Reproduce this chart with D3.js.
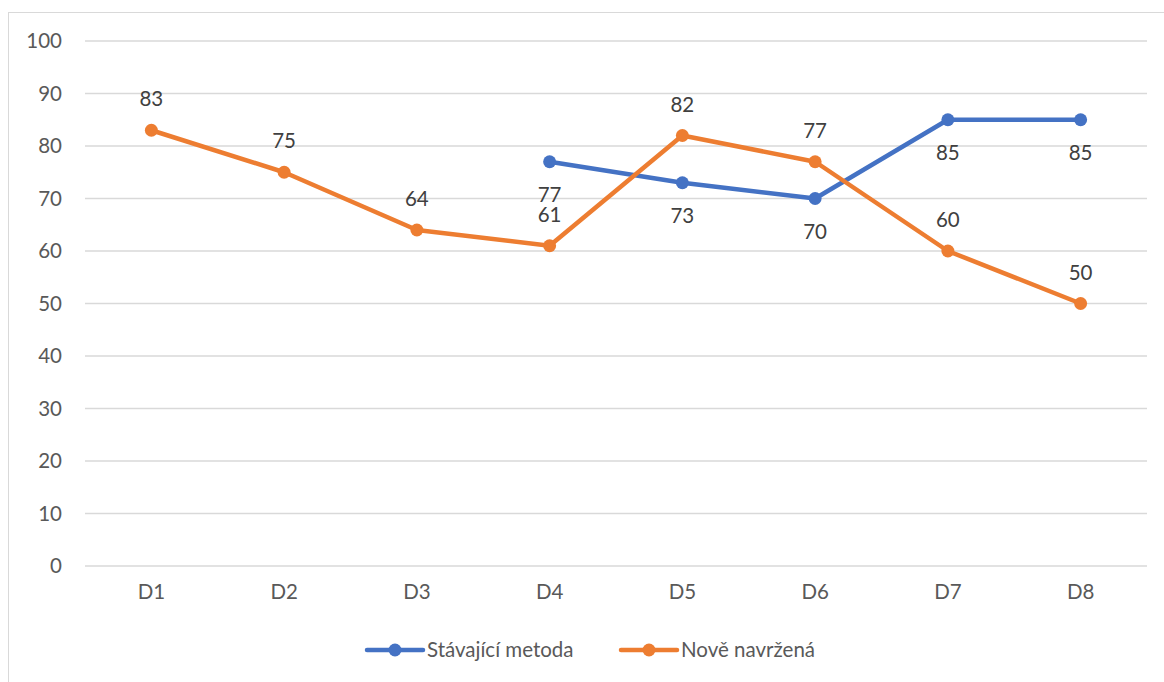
<!DOCTYPE html>
<html><head><meta charset="utf-8">
<script src="https://cdn.jsdelivr.net/npm/d3@7"></script>
<style>body{margin:0;background:#fff;}svg{display:block;}</style>
</head><body>
<script>
const categories = ["D1","D2","D3","D4","D5","D6","D7","D8"];
const seriesNames = ["Stávající metoda","Nově navržená"];
const stavajici = [null,null,null,77,73,70,85,85];
const nove = [83,75,64,61,82,77,60,50];
const yTicks = [0,10,20,30,40,50,60,70,80,90,100];
const colors = ["#4472C4","#ED7D31"];

(function(){
const W=1164,H=682;
const svg=d3.select("body").append("svg").attr("width",W).attr("height",H);
const font="Lato, 'Open Sans', sans-serif";
const fs=20.5;
svg.append("rect").attr("x",8.5).attr("y",12.5).attr("width",W).attr("height",H).attr("fill","none").attr("stroke","#d9d9d9").attr("stroke-width",1);

const pL=85,pR=1147,pT=41,pB=566;
const x=d3.scaleBand().domain(categories).range([pL,pR]);
const y=d3.scaleLinear().domain([0,100]).range([pB,pT]);

const g=svg.append("g");
g.selectAll("line.grid").data(yTicks).join("line").attr("class","grid")
 .attr("x1",pL).attr("x2",pR).attr("y1",d=>y(d)).attr("y2",d=>y(d))
 .attr("stroke","#d9d9d9").attr("stroke-width",1.5);
g.selectAll("text.yt").data(yTicks).join("text").attr("class","yt")
 .attr("x",62).attr("y",d=>y(d)).attr("dy","0.35em").attr("text-anchor","end")
 .attr("font-family",font).attr("font-size",fs).attr("fill","#595959").text(d=>d);
g.selectAll("text.xt").data(categories).join("text").attr("class","xt")
 .attr("x",d=>x(d)+x.bandwidth()/2).attr("y",pB+33).attr("text-anchor","middle")
 .attr("font-family",font).attr("font-size",fs).attr("fill","#595959").text(d=>d);

const series=[stavajici,nove];
series.forEach((vals,i)=>{
  const pts=vals.map((v,j)=>({c:categories[j],v})).filter(p=>p.v!==null);
  const line=d3.line().x(p=>x(p.c)+x.bandwidth()/2).y(p=>y(p.v));
  g.append("path").datum(pts).attr("d",line).attr("fill","none")
   .attr("stroke",colors[i]).attr("stroke-width",4.5).attr("stroke-linejoin","round").attr("stroke-linecap","round");
  g.selectAll("circle.s"+i).data(pts).join("circle").attr("class","s"+i)
   .attr("cx",p=>x(p.c)+x.bandwidth()/2).attr("cy",p=>y(p.v)).attr("r",6.5).attr("fill",colors[i]);
});
series.forEach((vals,i)=>{
  const pts=vals.map((v,j)=>({c:categories[j],v})).filter(p=>p.v!==null);
  g.selectAll("text.l"+i).data(pts).join("text").attr("class","l"+i)
   .attr("x",p=>x(p.c)+x.bandwidth()/2).attr("y",p=>y(p.v)+(i===0?33:-31)).attr("dy","0.35em")
   .attr("text-anchor","middle").attr("font-family",font).attr("font-size",fs).attr("fill","#404040").text(p=>p.v);
});

const legX=[367,621];
seriesNames.forEach((n,i)=>{
  const lg=svg.append("g").attr("transform",`translate(${legX[i]},650)`);
  lg.append("line").attr("x1",0).attr("x2",56).attr("stroke",colors[i]).attr("stroke-width",4.5).attr("stroke-linecap","round");
  lg.append("circle").attr("cx",28).attr("r",6.5).attr("fill",colors[i]);
  lg.append("text").attr("x",60).attr("dy","0.35em").attr("font-family",font).attr("font-size",fs).attr("fill","#595959").text(n);
});
})();
</script>
</body></html>
